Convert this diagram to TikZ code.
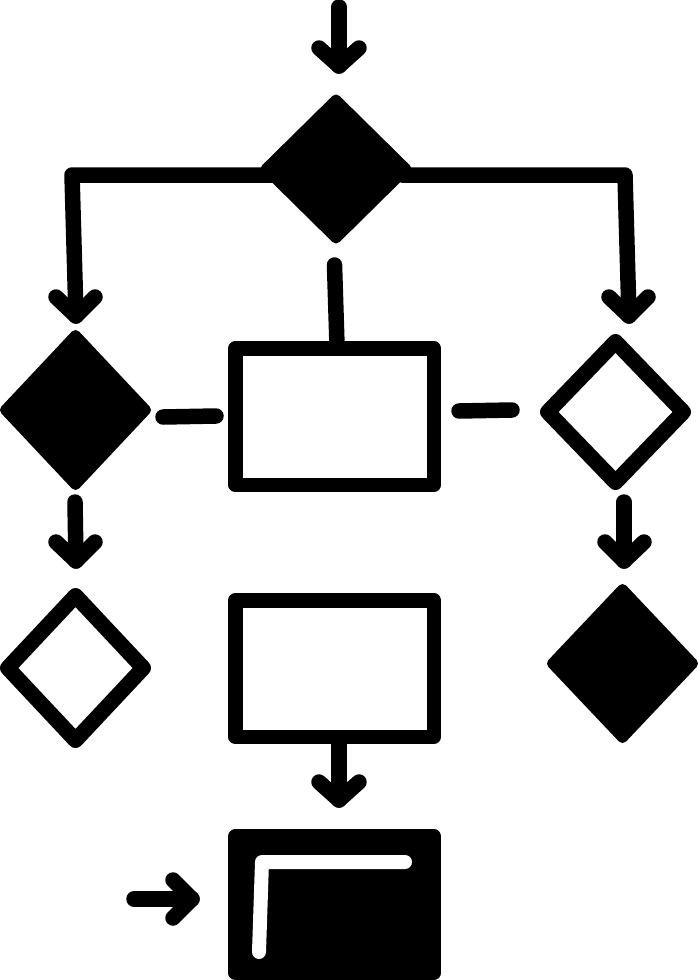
\documentclass[tikz,border=0pt]{standalone}
\usetikzlibrary{shapes.geometric}
\tikzset{
  x=1pt,y=-1pt,
  solidmark/.style={shape=diamond,draw=black,fill=black,line width=10pt,line join=round,inner sep=0pt,outer sep=0pt,minimum width=#1},
  openmark/.style={shape=diamond,draw=black,fill=white,line width=15.5pt,line join=round,inner sep=0pt,outer sep=0pt,minimum width=#1},
  framebox/.style={shape=rectangle,draw=black,fill=white,line width=14.5pt,line join=round,inner sep=0pt,outer sep=0pt,minimum width=198.5pt,minimum height=136.5pt},
  wire/.style={draw=black,line width=15.5pt,line cap=round,line join=round},
}
\begin{document}
\begin{tikzpicture}
\useasboundingbox (0,0) rectangle (698,980);
\fill[white] (0,0) rectangle (698,980);
% shapes
\node[solidmark=141pt,minimum height=139pt] (top) at (336,169) {};
\node[solidmark=141pt,minimum height=150pt] (left) at (75.5,410) {};
\node[openmark=135.5pt,minimum height=140.5pt] (right) at (615.5,412) {};
\node[openmark=135.5pt,minimum height=144.5pt] (bl) at (75.5,668) {};
\node[solidmark=141pt,minimum height=149pt] (br) at (622.5,663.5) {};
\node[framebox] (r1) at (334.5,416.5) {};
\node[framebox] (r2) at (334.5,668.5) {};
\node[framebox,fill=black] (r3) at (334.5,904.5) {};
% free ends
\coordinate (a0) at (339,7);
\coordinate (a1) at (339,66);
\coordinate (lc0) at (272,175);
\coordinate (lc1) at (72,175);
\coordinate (lc2) at (76,316);
\coordinate (rc0) at (402,175);
\coordinate (rc1) at (625,175);
\coordinate (rc2) at (629,316);
\coordinate (c0) at (334.5,265);
\coordinate (c1) at (337,345);
\coordinate (h0) at (163,417);
\coordinate (h1) at (216,416);
\coordinate (h2) at (459,411);
\coordinate (h3) at (512,410);
\coordinate (d0) at (75,502);
\coordinate (d1) at (76,561);
\coordinate (e0) at (624,502);
\coordinate (e1) at (624,561);
\coordinate (f0) at (339,744);
\coordinate (f1) at (339,800);
\coordinate (g0) at (134,899);
\coordinate (g1) at (192,899);
% connectors
\draw[wire] (a0) -- (a1);
\draw[wire] (319,48) -- (a1) -- (359,48);
\draw[wire] (lc0) -- (lc1) -- (lc2);
\draw[wire] (56,297) -- (lc2) -- (95,297);
\draw[wire] (rc0) -- (rc1) -- (rc2);
\draw[wire] (609,297) -- (rc2) -- (648,297);
\draw[wire] (c0) -- (c1);
\draw[wire] (h0) -- (h1);
\draw[wire] (h2) -- (h3);
\draw[wire] (d0) -- (d1);
\draw[wire] (56,542) -- (d1) -- (95,542);
\draw[wire] (e0) -- (e1);
\draw[wire] (605,542) -- (e1) -- (644,542);
\draw[wire] (f0) -- (f1);
\draw[wire] (319,782) -- (f1) -- (359,782);
\draw[wire] (g0) -- (g1);
\draw[wire] (173,880) -- (g1) -- (173,918);
% highlight
\draw[wire,draw=white,line width=14pt] (259,952) -- (262,862) -- (405,862);
\end{tikzpicture}
\end{document}
